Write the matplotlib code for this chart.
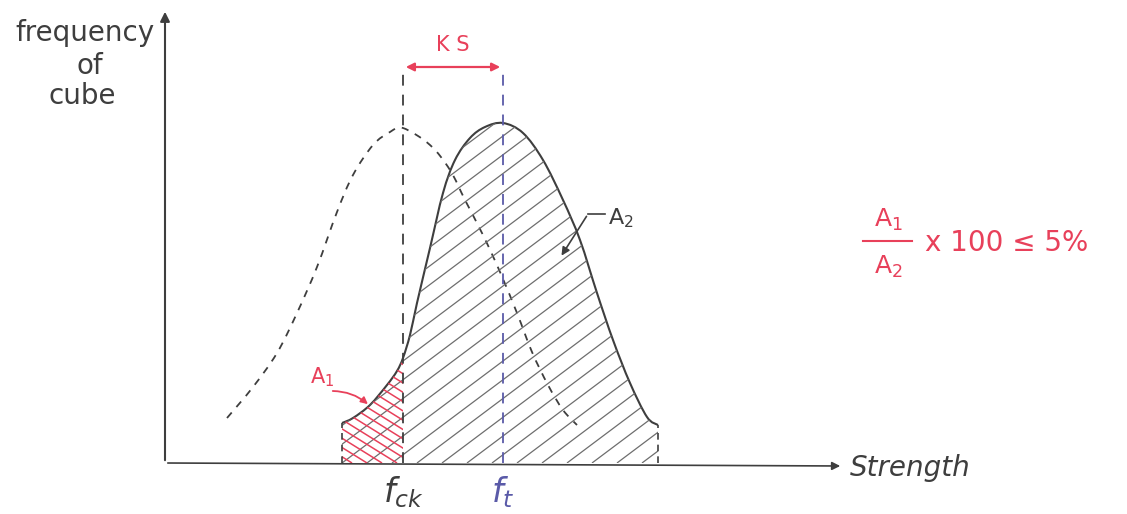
import numpy as np
import matplotlib.pyplot as plt
from matplotlib.path import Path
from matplotlib.patches import PathPatch
from matplotlib.collections import LineCollection

plt.rcParams['font.family'] = ['DejaVu Sans']

# target distribution (dashed) and actual distribution (solid), strength vs frequency
target_strength = [62, 88, 112, 132, 152, 172, 188, 208, 225, 238, 265, 285, 300, 318, 335, 352, 367, 383, 398, 412]
target_freq = [45, 76, 110, 150, 196, 251, 288, 318, 331, 335, 318, 293, 263, 228, 191, 150, 111, 78, 53, 38]

actual_strength = [177, 188, 205, 222, 232, 238, 245, 252, 265, 278, 290, 305, 320, 338,
                   358, 378, 398, 415, 432, 448, 465, 482, 493]
actual_freq = [40, 45, 58, 78, 92, 105, 128, 160, 215, 270, 303, 325, 336, 340,
               330, 303, 263, 223, 170, 123, 80, 46, 38]

f_ck = 238   # characteristic strength
f_t = 338    # target mean strength

INK = '#3e3e3e'
RED = '#e8405a'
BLUE = '#5a5aa8'


def smooth_path(xs, ys):
    # Catmull-Rom through the points, written as cubic bezier segments
    p = np.column_stack([xs, ys]).astype(float)
    verts = [p[0]]
    codes = [Path.MOVETO]
    n = len(p)
    for i in range(n - 1):
        p0 = p[i - 1] if i > 0 else p[i]
        p1, p2 = p[i], p[i + 1]
        p3 = p[i + 2] if i + 2 < n else p[i + 1]
        verts += [p1 + (p2 - p0) / 6, p2 - (p3 - p1) / 6, p2]
        codes += [Path.CURVE4] * 3
    return np.array(verts), codes


def region_patch(verts, codes, ax):
    v = list(verts) + [(verts[-1][0], 0), (verts[0][0], 0), (verts[0][0], verts[0][1])]
    c = list(codes) + [Path.LINETO, Path.LINETO, Path.CLOSEPOLY]
    patch = PathPatch(Path(v, c), facecolor='none', edgecolor='none')
    ax.add_patch(patch)
    return patch


def hatch(ax, patch, slope, spacing, color, lw, x0, x1):
    segs = []
    run = 600
    c = x0 - run
    while c < x1 + 50:
        segs.append([(c, 0), (c + run, slope * run)])
        c += spacing
    lc = LineCollection(segs, colors=color, linewidths=lw)
    ax.add_collection(lc)
    lc.set_clip_path(patch)


fig = plt.figure(figsize=(11.27, 5.14), dpi=100)
ax = fig.add_axes([0, 0, 1, 1])
ax.set_xlim(-165, 962)
ax.set_ylim(-51, 463)
ax.axis('off')

# axes with arrow heads
ax.annotate('', xy=(0, 454), xytext=(0, 0),
            arrowprops=dict(arrowstyle='-|>', color=INK, lw=1.5, mutation_scale=14))
ax.annotate('', xy=(678, -3), xytext=(0, 0),
            arrowprops=dict(arrowstyle='-|>', color=INK, lw=1.2, mutation_scale=12))

# actual distribution, hatched
av, ac = smooth_path(actual_strength, actual_freq)
whole = region_patch(av, ac, ax)
k = actual_strength.index(f_ck)
low = region_patch(av[:1 + 3 * k], ac[:1 + 3 * k], ax)

hatch(ax, whole, 0.75, 25, '#6e6e6e', 0.9, actual_strength[0], actual_strength[-1])
segs = []
c = actual_strength[0] - 50
while c < f_ck + 250:
    segs.append([(c - 300, 0.62 * 300), (c, 0)])
    c += 15
red_lc = LineCollection(segs, colors=RED, linewidths=1.1)
ax.add_collection(red_lc)
red_lc.set_clip_path(low)

ax.add_patch(PathPatch(Path(av, ac), facecolor='none', edgecolor=INK, lw=1.5))
ax.plot([actual_strength[0]] * 2, [0, actual_freq[0]], color=INK, lw=1.2, ls=(0, (4, 3)))
ax.plot([actual_strength[-1]] * 2, [0, actual_freq[-1]], color=INK, lw=1.2, ls=(0, (4, 3)))

# target distribution, dashed
tv, tc = smooth_path(target_strength, target_freq)
ax.add_patch(PathPatch(Path(tv, tc), facecolor='none', edgecolor=INK, lw=1.3,
                       ls=(0, (4, 4))))

# f_ck and f_t guides, KS margin
ax.plot([f_ck, f_ck], [0, 396], color=INK, lw=1.3, ls=(0, (6, 5)))
ax.plot([f_t, f_t], [0, 396], color=BLUE, lw=1.3, ls=(0, (6, 5)))
ax.annotate('', xy=(f_t, 396), xytext=(f_ck, 396),
            arrowprops=dict(arrowstyle='<|-|>', color=RED, lw=1.6, mutation_scale=12))
ax.text((f_ck + f_t) / 2, 418, 'K S', color=RED, fontsize=15, ha='center', va='center')

# labels
ax.text(-80, 430, 'frequency', color=INK, fontsize=20, ha='center', va='center')
ax.text(-75, 397, 'of', color=INK, fontsize=20, ha='center', va='center')
ax.text(-83, 367, 'cube', color=INK, fontsize=20, ha='center', va='center')
ax.text(685, -5, 'Strength', color=INK, fontsize=20, ha='left', va='center', style='italic')
ax.text(f_ck, -29, r'$f_{ck}$', color=INK, fontsize=24, ha='center', va='center')
ax.text(f_t, -29, r'$f_t$', color=BLUE, fontsize=24, ha='center', va='center')

# A1 / A2 callouts
ax.text(145, 86, r'A$_1$', color=RED, fontsize=15, ha='left', va='center')
ax.annotate('', xy=(205, 57), xytext=(165, 72),
            arrowprops=dict(arrowstyle='-|>', color=RED, lw=1.3, mutation_scale=10,
                            connectionstyle='arc3,rad=-0.2'))
ax.text(443, 245, r'A$_2$', color=INK, fontsize=16, ha='left', va='center')
ax.plot([440, 423], [249, 249], color=INK, lw=1.2)
ax.annotate('', xy=(395, 205), xytext=(423, 249),
            arrowprops=dict(arrowstyle='-|>', color=INK, lw=1.2, mutation_scale=12))

# acceptance criterion
ax.text(723, 243, r'A$_1$', color=RED, fontsize=18, ha='center', va='center')
ax.plot([698, 747], [222, 222], color=RED, lw=1.5)
ax.text(723, 196, r'A$_2$', color=RED, fontsize=18, ha='center', va='center')
ax.text(760, 220, 'x 100 ≤ 5%', color=RED, fontsize=20, ha='left', va='center')

fig.savefig('out.png', dpi=100)
